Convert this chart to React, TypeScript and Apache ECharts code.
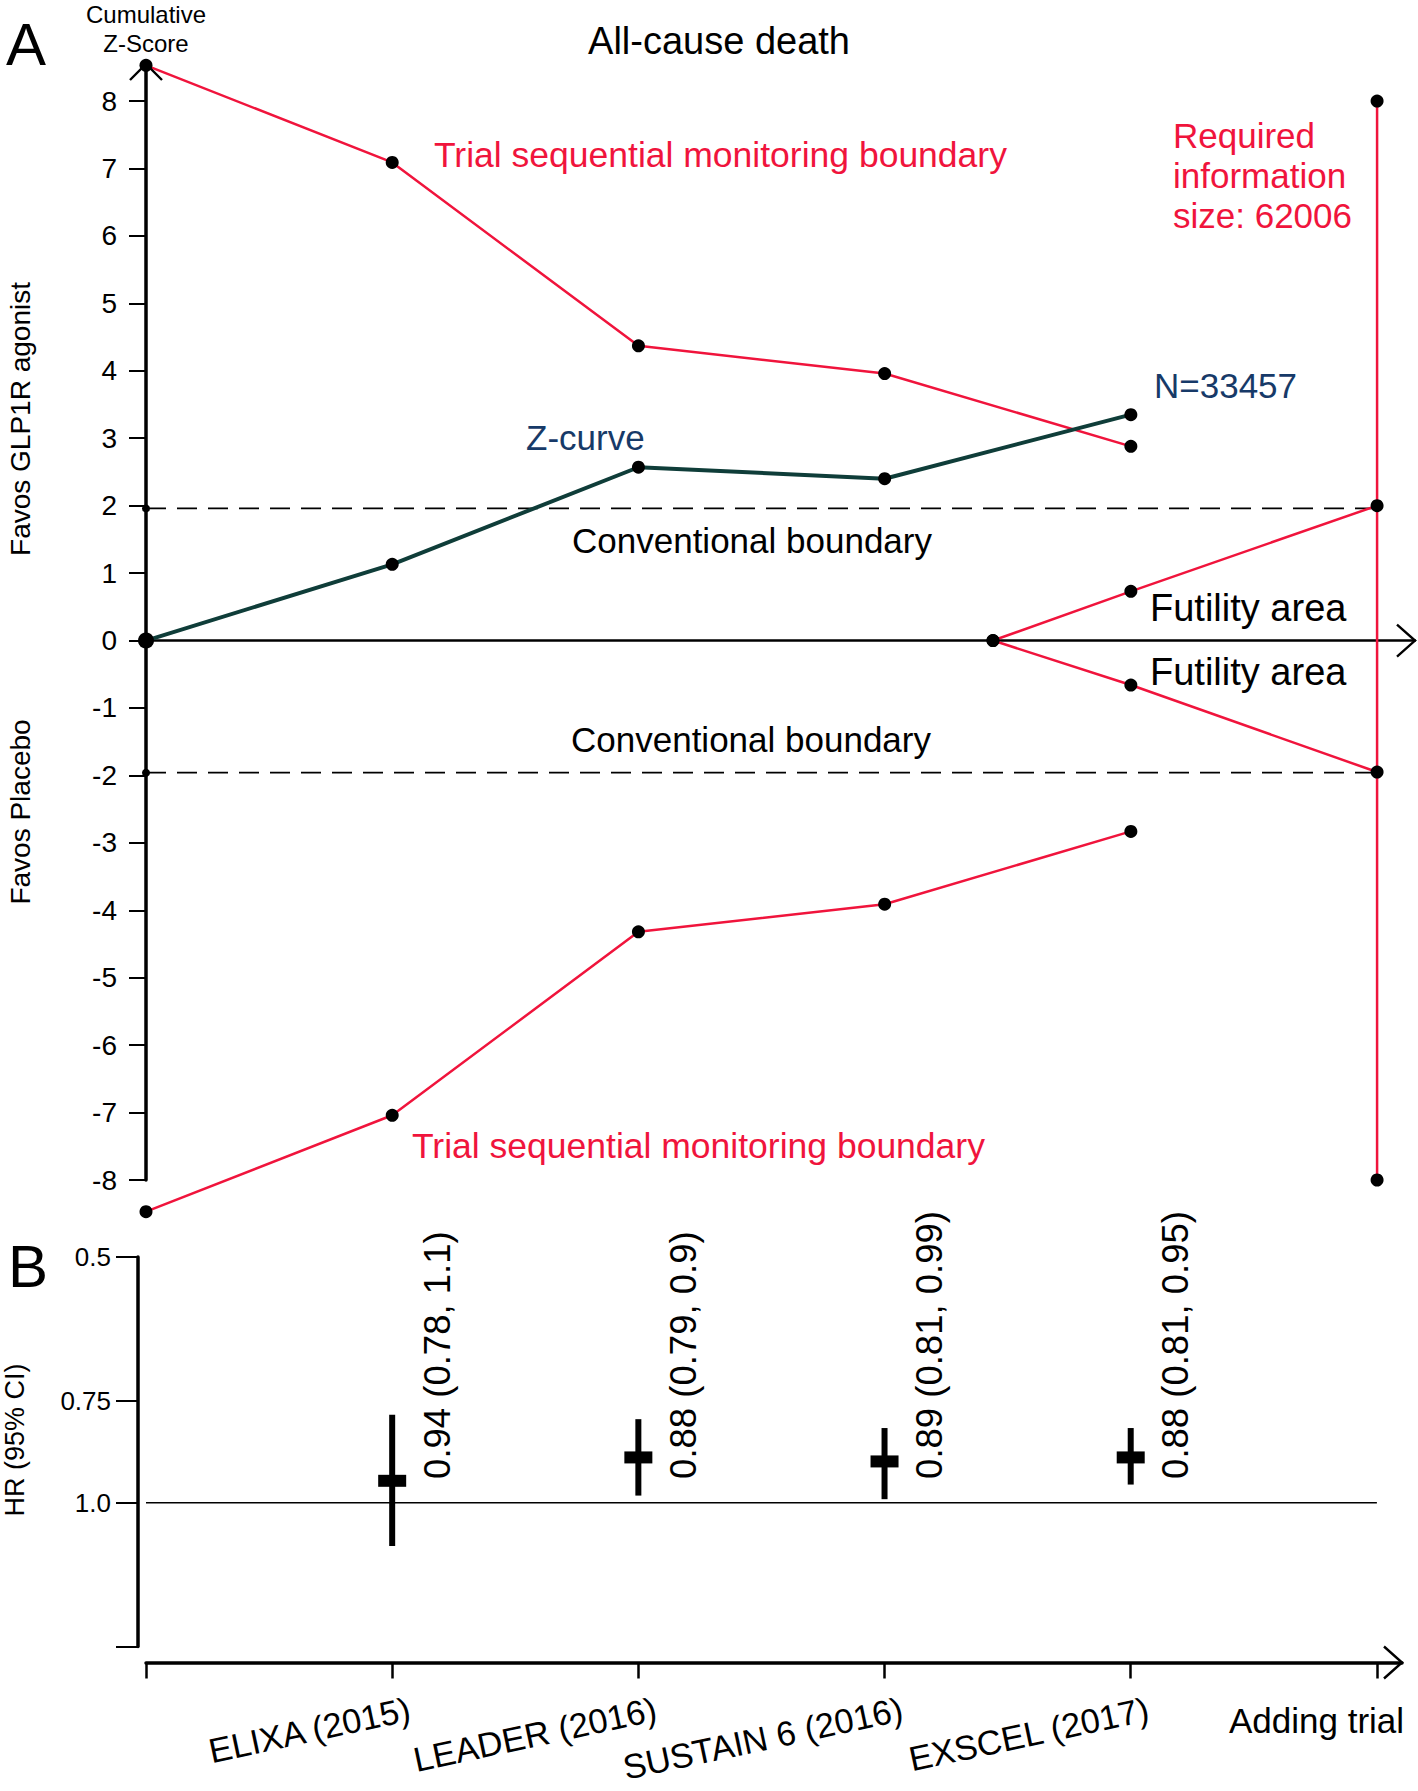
import React, { useEffect, useRef } from "react";
import * as echarts from "echarts";

// ---------- Data ----------
const TRIALS = ["ELIXA (2015)", "LEADER (2016)", "SUSTAIN 6 (2016)", "EXSCEL (2017)"];
const TRIAL_X = [1, 2, 3, 4];
const BOUNDARY_X = [0, 1, 2, 3, 4];
const UPPER_BOUNDARY = [8.53, 7.09, 4.37, 3.96, 2.88];
const LOWER_BOUNDARY = [-8.47, -7.04, -4.32, -3.91, -2.83];
const Z_CURVE = [0, 1.13, 2.57, 2.4, 3.35];
const FUTILITY_X = [3.44, 4, 5];
const FUTILITY_UPPER = [0, 0.73, 2.0];
const FUTILITY_LOWER = [0, -0.66, -1.95];
const RIS_X = 5;
const RIS_BOUNDS = [8, -8];
const CONVENTIONAL = [1.96, -1.96];
const Y_TICKS_A = [-8, -7, -6, -5, -4, -3, -2, -1, 0, 1, 2, 3, 4, 5, 6, 7, 8];

const HR = [0.94, 0.88, 0.89, 0.88];
const HR_LOW = [0.78, 0.79, 0.81, 0.81];
const HR_HIGH = [1.13, 0.98, 0.99, 0.95];
const HR_LABELS = ["0.94 (0.78, 1.1)", "0.88 (0.79, 0.9)", "0.89 (0.81, 0.99)", "0.88 (0.81, 0.95)"];
const HR_TICKS = [0.5, 0.75, 1.0];
const HR_TICK_LABELS = ["0.5", "0.75", "1.0"];
const HR_EXTENT = [0.5, 1.5];
const HR_REF = 1.0;
const HR_LABEL_ANCHOR = 0.935;
const X_TICKS_B = [0, 1, 2, 3, 4, 5];

// ---------- Style ----------
const FONT = '"Liberation Sans", Arial, Helvetica, sans-serif';
const RED = "#f0143c";
const NAVY = "#173a68";
const ZC = "#0f3d39";
const XMAX_A = 5.154;
const XMAX_B = 5.102;
const YMAX_A = 8.55;

const ln = Math.log;
const pts = (xs: number[], ys: number[]) => xs.map((x, i) => [x, ys[i]]);

function txt(text: string, x: number, y: number, o: any = {}) {
  return {
    type: "text",
    x,
    y,
    rotation: o.rotation || 0,
    silent: true,
    style: {
      text,
      fill: o.color || "#000",
      fontSize: o.size || 35,
      fontFamily: FONT,
      align: o.align || "left",
      verticalAlign: "middle",
    },
  };
}

function arrowSeries(xi: number, yi: number, x: number, y: number, dir: "right" | "up", dy = 0) {
  return {
    type: "custom",
    xAxisIndex: xi,
    yAxisIndex: yi,
    silent: true,
    z: 10,
    clip: false,
    data: [[x, y]],
    renderItem: (_p: any, api: any) => {
      const c = api.coord([api.value(0), api.value(1)]);
      const cx = c[0];
      const cy = c[1] + dy;
      const points =
        dir === "right"
          ? [[cx - 18, cy - 16], [cx, cy], [cx - 18, cy + 16]]
          : [[cx - 16, cy + 16], [cx, cy], [cx + 16, cy + 16]];
      return {
        type: "polyline",
        shape: { points },
        style: { stroke: "#000", lineWidth: 2.4, fill: "none" },
      };
    },
  };
}

const lineA = (data: any, color: string, width: number, extra: any = {}) => ({
  type: "line",
  xAxisIndex: 0,
  yAxisIndex: 0,
  data,
  symbol: "circle",
  symbolSize: 13,
  itemStyle: { color: "#000" },
  lineStyle: { color, width },
  clip: false,
  silent: true,
  ...extra,
});

export default function App() {
  const ref = useRef<HTMLDivElement>(null);

  useEffect(() => {
    document.body.style.margin = "0";
    const chart = echarts.init(ref.current!, null, { renderer: "svg" });

    const option: any = {
      animation: false,
      backgroundColor: "#fff",
      textStyle: { fontFamily: FONT },
      grid: [
        { left: 146, top: 64, width: 1269, height: 1116, outerBoundsMode: "none", containLabel: false },
        { left: 146, top: 1257, width: 1256, height: 389.5, outerBoundsMode: "none", containLabel: false },
      ],
      xAxis: [
        {
          gridIndex: 0,
          type: "value",
          min: 0,
          max: XMAX_A,
          axisLine: { show: true, onZero: true, lineStyle: { color: "#000", width: 2.5 } },
          axisTick: { show: true, customValues: [RIS_X], length: 17, lineStyle: { color: "#000", width: 2 } },
          axisLabel: { show: false },
          splitLine: { show: false },
        },
        {
          gridIndex: 1,
          type: "value",
          min: 0,
          max: XMAX_B,
          position: "bottom",
          offset: 16,
          axisLine: { show: true, onZero: false, lineStyle: { color: "#000", width: 3.5 } },
          axisTick: { show: true, customValues: X_TICKS_B, length: 16, lineStyle: { color: "#000", width: 2.5 } },
          axisLabel: {
            show: true,
            customValues: TRIAL_X,
            formatter: (v: number) => {
              const i = TRIAL_X.indexOf(Math.round(v));
              return i >= 0 ? TRIALS[i] : "";
            },
            rotate: 12,
            margin: 50,
            padding: [0, -18, 0, 0],
            fontSize: 34.5,
            color: "#000",
            fontFamily: FONT,
          },
          splitLine: { show: false },
        },
      ],
      yAxis: [
        {
          gridIndex: 0,
          type: "value",
          min: -8,
          max: YMAX_A,
          axisLine: { show: true, onZero: false, lineStyle: { color: "#000", width: 3.5 } },
          axisTick: { show: true, customValues: Y_TICKS_A, length: 17, lineStyle: { color: "#000", width: 2 } },
          axisLabel: { show: true, customValues: Y_TICKS_A, fontSize: 28, margin: 29, color: "#000", fontFamily: FONT },
          splitLine: { show: false },
        },
        {
          gridIndex: 1,
          type: "value",
          inverse: true,
          min: ln(HR_EXTENT[0]),
          max: ln(HR_EXTENT[1]),
          offset: 8,
          axisLine: { show: true, onZero: false, lineStyle: { color: "#000", width: 3.5 } },
          axisTick: {
            show: true,
            customValues: [...HR_TICKS, HR_EXTENT[1]].map((v) => ln(v)),
            length: 22,
            lineStyle: { color: "#000", width: 2 },
          },
          axisLabel: {
            show: true,
            customValues: HR_TICKS.map((v) => ln(v)),
            formatter: (v: number) => {
              const i = HR_TICKS.findIndex((t) => Math.abs(ln(t) - v) < 1e-6);
              return i >= 0 ? HR_TICK_LABELS[i] : "";
            },
            fontSize: 26,
            margin: 27,
            color: "#000",
            fontFamily: FONT,
          },
          splitLine: { show: false },
        },
      ],
      series: [
        // conventional boundaries
        ...CONVENTIONAL.map((v) =>
          lineA(
            [
              { value: [0, v], symbolSize: 8 },
              { value: [RIS_X, v], symbolSize: 0 },
            ],
            "#000",
            1.8,
            { lineStyle: { color: "#000", width: 1.8, type: [20, 11] }, z: 2 }
          )
        ),
        // RIS vertical line
        lineA(pts([RIS_X, RIS_X], RIS_BOUNDS), RED, 2.5),
        // trial sequential monitoring boundaries
        lineA(pts(BOUNDARY_X, UPPER_BOUNDARY), RED, 2.5),
        lineA(pts(BOUNDARY_X, LOWER_BOUNDARY), RED, 2.5),
        // futility
        lineA(pts(FUTILITY_X, FUTILITY_UPPER), RED, 2.5),
        lineA(pts(FUTILITY_X, FUTILITY_LOWER), RED, 2.5),
        // Z-curve
        lineA(
          pts(BOUNDARY_X, Z_CURVE).map((p, i) => (i === 0 ? { value: p, symbolSize: 16 } : { value: p })),
          ZC,
          4,
          { z: 4 }
        ),
        // arrows
        arrowSeries(0, 0, XMAX_A, 0, "right"),
        arrowSeries(0, 0, 0, YMAX_A, "up"),
        arrowSeries(1, 1, XMAX_B, ln(HR_EXTENT[1]), "right", 16),
        // HR reference line
        {
          type: "line",
          xAxisIndex: 1,
          yAxisIndex: 1,
          data: [[0, ln(HR_REF)], [RIS_X, ln(HR_REF)]],
          symbol: "none",
          lineStyle: { color: "#000", width: 1.6 },
          silent: true,
        },
        // forest plot
        {
          type: "custom",
          xAxisIndex: 1,
          yAxisIndex: 1,
          silent: true,
          clip: false,
          z: 5,
          data: HR.map((h, i) => [TRIAL_X[i], ln(h), ln(HR_LOW[i]), ln(HR_HIGH[i]), i]),
          renderItem: (_p: any, api: any) => {
            const x = api.value(0);
            const c = api.coord([x, api.value(1)]);
            const lo = api.coord([x, api.value(2)]);
            const hi = api.coord([x, api.value(3)]);
            const an = api.coord([x, ln(HR_LABEL_ANCHOR)]);
            const idx = api.value(4);
            return {
              type: "group",
              children: [
                {
                  type: "rect",
                  shape: { x: c[0] - 3, y: Math.min(lo[1], hi[1]), width: 6, height: Math.abs(hi[1] - lo[1]) },
                  style: { fill: "#000" },
                },
                {
                  type: "rect",
                  shape: { x: c[0] - 14, y: c[1] - 6, width: 28, height: 12 },
                  style: { fill: "#000" },
                },
                {
                  type: "text",
                  x: c[0] + 45,
                  y: an[1],
                  rotation: Math.PI / 2,
                  style: {
                    text: HR_LABELS[idx],
                    fontSize: 36.5,
                    fontFamily: FONT,
                    fill: "#000",
                    align: "left",
                    verticalAlign: "middle",
                  },
                },
              ],
            };
          },
        },
      ],
      graphic: [
        txt("A", 6, 44, { size: 60 }),
        txt("Cumulative", 146, 14, { size: 24, align: "center" }),
        txt("Z-Score", 146, 43, { size: 24, align: "center" }),
        txt("All-cause death", 719, 41, { size: 38, align: "center" }),
        txt("Trial sequential monitoring boundary", 434, 155, { color: RED, size: 35.5 }),
        txt("Trial sequential monitoring boundary", 412, 1146, { color: RED, size: 35.5 }),
        txt("Required", 1173, 135, { color: RED }),
        txt("information", 1173, 175, { color: RED }),
        txt("size: 62006", 1173, 215, { color: RED }),
        txt("N=33457", 1154, 385, { color: NAVY }),
        txt("Z-curve", 526, 437, { color: NAVY }),
        txt("Conventional boundary", 572, 540),
        txt("Conventional boundary", 571, 739),
        txt("Futility area", 1150, 608, { size: 38 }),
        txt("Futility area", 1150, 672, { size: 38 }),
        txt("Favos GLP1R agonist", 20, 419, { size: 28, align: "center", rotation: Math.PI / 2 }),
        txt("Favos Placebo", 20, 812, { size: 28, align: "center", rotation: Math.PI / 2 }),
        txt("B", 8, 1266, { size: 60 }),
        txt("HR (95% CI)", 15, 1440, { size: 27, align: "center", rotation: Math.PI / 2 }),
        txt("Adding trial", 1229, 1720),
      ],
    };

    chart.setOption(option);
    return () => chart.dispose();
  }, []);

  return (
    <div
      ref={ref}
      style={{ position: "absolute", left: 0, top: 0, width: 1418, height: 1791, background: "#fff" }}
    />
  );
}
